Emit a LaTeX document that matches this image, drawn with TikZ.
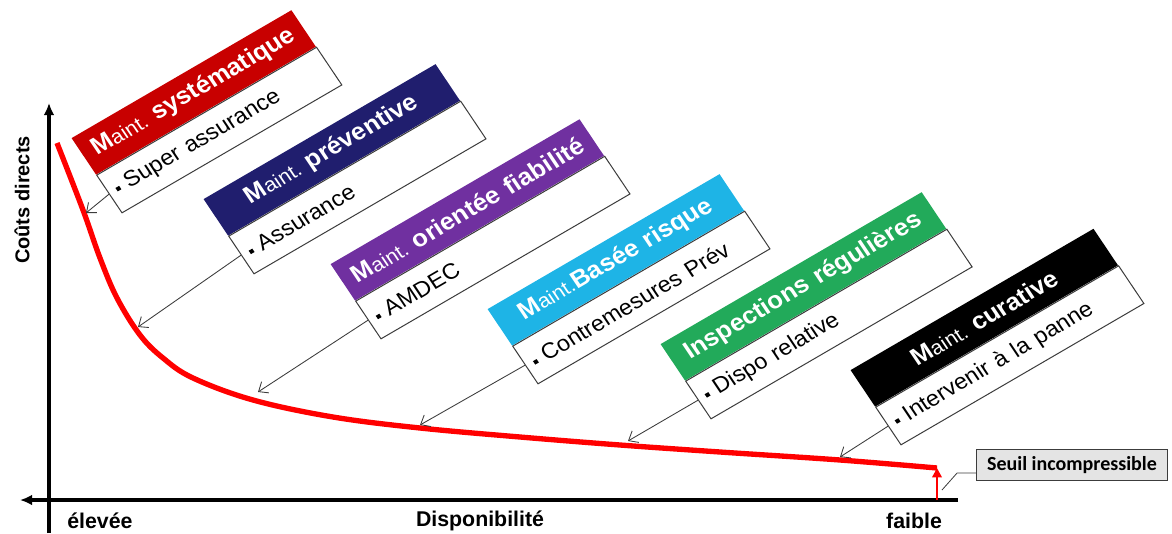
\documentclass[tikz,border=0pt]{standalone}
\usepackage{fontspec}
\setmainfont{Liberation Sans}
\newfontfamily\calibfont{Carlito}
\usetikzlibrary{arrows.meta,positioning}

\definecolor{csys}{RGB}{200,0,0}
\definecolor{cprev}{RGB}{32,30,110}
\definecolor{cfiab}{RGB}{112,48,160}
\definecolor{crisk}{RGB}{30,180,230}
\definecolor{cinsp}{RGB}{34,170,90}
\definecolor{ccur}{RGB}{0,0,0}
\definecolor{cedge}{RGB}{60,60,60}
\definecolor{cseuil}{RGB}{228,228,228}

\newcommand{\mnt}{M{\mdseries\fontsize{15}{17}\selectfont aint.}}
\newcommand{\itm}{\raisebox{0.3ex}{\rule{3pt}{3pt}}\hspace{5pt}}

\begin{document}
\begin{tikzpicture}[x=0.75pt,y=0.75pt,yscale=-1,xscale=1,
  tilt/.style={xscale=1.074, rotate=32},
  hdr/.style={tilt, anchor=south west, inner xsep=6pt, inner ysep=0pt, minimum height=32.3pt, text width=#1, align=center, text=white, font=\bfseries\fontsize{18}{20}\selectfont},
  wbox/.style={tilt, anchor=north west, draw=cedge, line width=0.75pt, fill=white, inner xsep=6pt, inner ysep=0pt, minimum height=33.3pt, text width=#1, align=left, font=\fontsize{16.5}{19}\selectfont},
  axis/.style={line width=2.6pt, -{Latex[length=9pt,width=8pt]}},
  pointer/.style={draw=cedge, line width=0.65pt, -{Straight Barb[length=6pt,width=10pt]}},
  curve/.style={red, line width=4pt, line join=round},
  axlabel/.style={font=\bfseries\fontsize{16}{18}\selectfont, inner sep=0.75pt}]
\useasboundingbox (0,0) rectangle (1172,533);

% axes
\coordinate (yb) at (49,533);
\coordinate (yt) at (49,103);
\coordinate (xr) at (958,500);
\coordinate (xl) at (20,500);
\draw[axis] (yb) -- (yt);
\draw[axis] (xr) -- (xl);

% cost curve
\coordinate (seuil) at (937,468);
\coordinate (xfoot) at (937,500);
\draw[curve] plot[smooth, tension=0.6] coordinates {(57,143) (83,210) (100,258) (117,298) (140,335) (163,358) (193,378) (253,400) (333,417) (420,428) (520,437) (620,445) (720,452) (840,460) (937,468)};
\draw[red, line width=2.2pt, -{Triangle[length=7pt,width=7pt]}] (xfoot) -- (seuil);

% arrow ends on the curve
\coordinate (tsys) at (86,213);
\coordinate (tprev) at (138,327);
\coordinate (tfiab) at (258,392);
\coordinate (trisk) at (420,425);
\coordinate (tinsp) at (628,441);
\coordinate (tcur) at (840,457);

%Shape: Maint. systematique
\node[hdr=169pt, fill=csys] (hsys) at (96,175) {\mnt\ systématique};
\node[wbox=169pt] (wsys) at (hsys.south west) {\itm Super assurance};
\draw[pointer] (wsys.west) -- (tsys);

%Shape: Maint. preventive
\node[hdr=179pt, fill=cprev] (hprev) at (228,236) {\mnt\ préventive};
\node[wbox=179pt] (wprev) at (hprev.south west) {\itm Assurance};
\draw[pointer] (wprev.west) -- (tprev);

%Shape: Maint. orientee fiabilite
\node[hdr=193pt, fill=cfiab] (hfiab) at (355,301) {\mnt\ orientée fiabilité};
\node[wbox=193pt] (wfiab) at (hfiab.south west) {\itm AMDEC};
\draw[pointer] (wfiab.west) -- (tfiab);

%Shape: Maint. basee risque
\node[hdr=179pt, fill=crisk] (hrisk) at (512,346) {\mnt Basée risque};
\node[wbox=179pt] (wrisk) at (hrisk.south west) {\itm Contremesures Prév};
\draw[pointer] (wrisk.west) -- (trisk);

%Shape: Inspections regulieres
\node[hdr=203pt, fill=cinsp] (hinsp) at (685,381) {Inspections régulières};
\node[wbox=203pt] (winsp) at (hinsp.south west) {\itm Dispo relative};
\draw[pointer] (winsp.west) -- (tinsp);

%Shape: Maint. curative
\node[hdr=188pt, fill=ccur] (hcur) at (875,407) {\mnt\ curative};
\node[wbox=188pt] (wcur) at (hcur.south west) {\itm Intervenir à la panne};
\draw[pointer] (wcur.west) -- (tcur);

% Text Node
\node[draw=cedge, line width=0.9pt, fill=cseuil, minimum width=143pt, minimum height=23pt, inner sep=2pt, font=\calibfont\bfseries\fontsize{15}{17}\selectfont] (seuilbox) at (1072,465) {Seuil incompressible};
\coordinate (cpt) at (942,490);
\draw[cedge, line width=0.6pt] ([yshift=6pt]seuilbox.west) -- ++(-19,0) -- (cpt);

% Text Node
\node[axlabel, rotate=90, font=\bfseries\fontsize{15}{17}\selectfont] (ylab) at (22,200) {Coûts directs};
\node[axlabel, anchor=west] (hi) at (66,521) {élevée};
\node[axlabel] (dispo) at (480,521) {Disponibilité};
\node[axlabel] (lo) at (914,521) {faible};

\end{tikzpicture}
\end{document}
